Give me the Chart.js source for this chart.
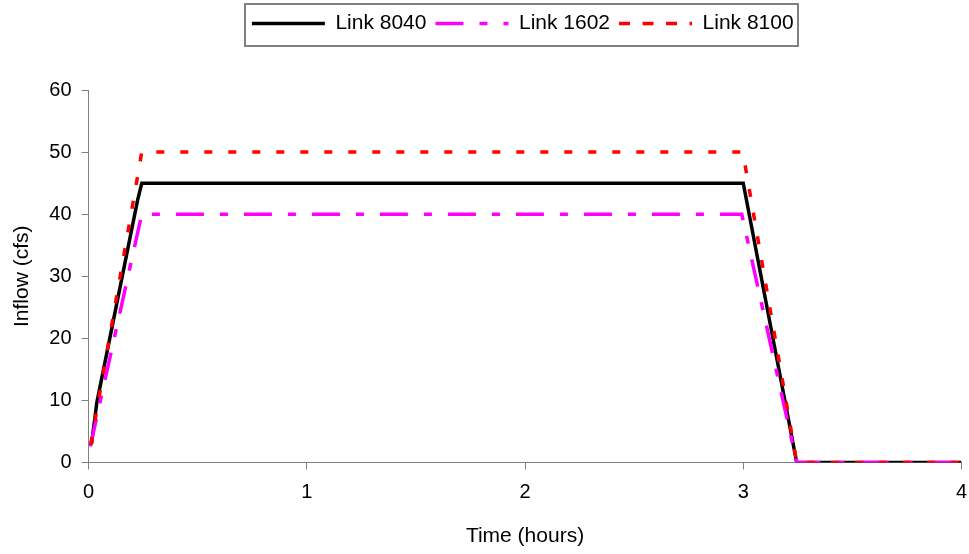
<!DOCTYPE html>
<html>
<head>
<meta charset="utf-8">
<script src="https://cdn.jsdelivr.net/npm/chart.js@4.4.1/dist/chart.umd.min.js"></script>
<style>
  html, body { margin: 0; padding: 0; background: #ffffff; }
  canvas { display: block; }
</style>
</head>
<body>
<canvas id="c" width="969" height="554"></canvas>
<script>
// ---- data ----
const seriesLabels = ['Link 8040', 'Link 1602', 'Link 8100'];
const time8040 = [0.014, 0.038, 0.224, 0.244, 3.0, 3.245, 4.0];
const flow8040 = [3.0, 9.6, 42.1, 45, 45, 0, 0];
const time1602 = [0.008, 0.244, 2.993, 3.245, 4.0];
const flow1602 = [2.6, 40, 40, 0, 0];
const time8100 = [0.010, 0.228, 0.244, 2.998, 3.245, 4.0];
const flow8100 = [2.8, 46.7, 50, 50, 0, 0];
const xTickValues = [0, 1, 2, 3, 4];
const yTickValues = [0, 10, 20, 30, 40, 50, 60];
const xTitle = 'Time (hours)';
const yTitle = 'Inflow (cfs)';

// ---- styling ----
const FONT = "'Liberation Sans', Arial, Helvetica, sans-serif";
Chart.defaults.font.family = FONT;
Chart.defaults.color = '#000000';

const lineColors = ['#000000', '#ff00ff', '#ff0000'];
const plotDash = [[], [28, 16, 8, 16], [8, 16]];
const legendDash = [[], [28, 16, 8, 16], [11, 12.5]];
const LW = 3.5;

const toPts = (xs, ys) => xs.map((x, i) => ({ x: x, y: ys[i] }));
const seriesPts = [toPts(time8040, flow8040), toPts(time1602, flow1602), toPts(time8100, flow8100)];

const legendFrame = {
  id: 'legendFrame',
  afterLayout(chart) {
    const lg = chart.legend, ca = chart.chartArea;
    const h = lg.height;
    lg.left = ca.left - 4.5;
    lg.right = ca.right;
    lg.width = lg.right - lg.left;
    lg.top = 4;
    lg.bottom = 4 + h;
  },
  afterDraw(chart) {
    const hb = chart.legend.legendHitBoxes;
    if (!hb || !hb.length) return;
    const first = hb[0], last = hb[hb.length - 1];
    const c = chart.ctx;
    c.save();
    c.strokeStyle = '#808080';
    c.lineWidth = 2;
    const l = Math.round(first.left - 6.5);
    const r = Math.round(last.left + last.width + 4);
    const t = Math.round(first.top - 9);
    const b = Math.round(first.top + first.height + 11.5);
    c.strokeRect(l, t, r - l, b - t);
    c.restore();
  }
};

new Chart(document.getElementById('c').getContext('2d'), {
  type: 'line',
  data: {
    datasets: seriesLabels.map((lab, i) => ({
      label: lab,
      data: seriesPts[i],
      borderColor: lineColors[i],
      backgroundColor: lineColors[i],
      borderWidth: LW,
      borderDash: plotDash[i],
      borderCapStyle: 'butt',
      borderJoinStyle: 'miter',
      pointRadius: 0,
      tension: 0,
      fill: false,
      order: 3 - i
    }))
  },
  options: {
    responsive: false,
    devicePixelRatio: 1,
    animation: false,
    events: [],
    layout: { padding: { left: 0, right: 7.5, top: 50, bottom: 0 } },
    plugins: {
      tooltip: { enabled: false },
      title: { display: false },
      legend: {
        display: true,
        position: 'top',
        labels: {
          usePointStyle: true,
          pointStyle: 'line',
          pointStyleWidth: 73,
          padding: 9,
          color: '#000000',
          font: { size: 21, family: FONT },
          generateLabels(chart) {
            return chart.data.datasets.map((ds, i) => ({
              text: ds.label,
              fillStyle: ds.borderColor,
              strokeStyle: ds.borderColor,
              fontColor: '#000000',
              lineWidth: LW,
              lineDash: legendDash[i],
              lineCap: 'butt',
              pointStyle: 'line',
              hidden: false,
              datasetIndex: i
            }));
          }
        }
      }
    },
    scales: {
      x: {
        type: 'linear',
        min: xTickValues[0],
        max: xTickValues[xTickValues.length - 1],
        afterFit(s) { s.height = 91.5; s.paddingLeft = 0; s.paddingRight = 0; },
        afterBuildTicks(s) { s.ticks = xTickValues.map(v => ({ value: v })); },
        ticks: { font: { size: 20 }, padding: 11, color: '#000000', maxRotation: 0 },
        grid: { drawOnChartArea: false, drawTicks: true, tickLength: 7, color: '#808080', lineWidth: 1 },
        border: { display: true, color: '#808080', width: 1 },
        title: { display: true, text: xTitle, font: { size: 21 }, color: '#000000', padding: { top: 0, bottom: 5 } }
      },
      y: {
        type: 'linear',
        min: yTickValues[0],
        max: yTickValues[yTickValues.length - 1],
        afterFit(s) { s.width = 88.5; },
        afterBuildTicks(s) { s.ticks = yTickValues.map(v => ({ value: v })); },
        ticks: { font: { size: 20 }, padding: 10, color: '#000000' },
        grid: { drawOnChartArea: false, drawTicks: true, tickLength: 7, color: '#808080', lineWidth: 1 },
        border: { display: true, color: '#808080', width: 1 },
        title: { display: true, text: yTitle, font: { size: 21 }, color: '#000000', padding: { top: 10, bottom: 0 } }
      }
    }
  },
  plugins: [legendFrame]
});
</script>
</body>
</html>
